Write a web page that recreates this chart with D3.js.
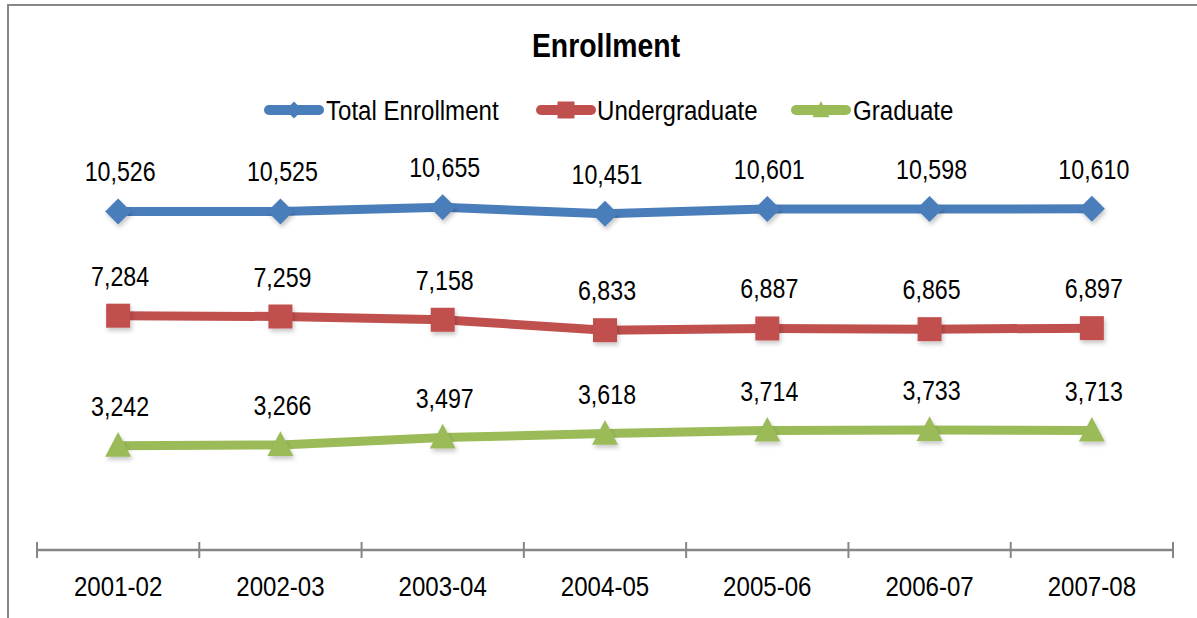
<!DOCTYPE html>
<html>
<head>
<meta charset="utf-8">
<script src="https://cdn.jsdelivr.net/npm/d3@7"></script>
<style>
  html, body { margin: 0; padding: 0; background: #fff; overflow: hidden; }
  svg { display: block; }
</style>
</head>
<body>
<svg id="chart" width="1197" height="618"></svg>
<script>
// Enrollment by academic year
const years = ["2001-02", "2002-03", "2003-04", "2004-05", "2005-06", "2006-07", "2007-08"];
const totalEnrollment = [10526, 10525, 10655, 10451, 10601, 10598, 10610];
const undergraduate = [7284, 7259, 7158, 6833, 6887, 6865, 6897];
const graduate = [3242, 3266, 3497, 3618, 3714, 3733, 3713];
const seriesNames = ["Total Enrollment", "Undergraduate", "Graduate"];
const seriesColors = ["#4A7EBB", "#C0504D", "#9BBB59"];
const seriesMarkers = ["diamond", "square", "triangle"];
const chartTitle = "Enrollment";

const series = [totalEnrollment, undergraduate, graduate].map((values, i) => ({
  name: seriesNames[i], color: seriesColors[i], marker: seriesMarkers[i], values
}));

const svg = d3.select("#chart");

// Detect whether a condensed face is installed; otherwise squeeze a regular face.
function hasFont(name) {
  const c = document.createElement("canvas").getContext("2d");
  const s = "Total Enrollment 10,526";
  c.font = "40px monospace"; const a = c.measureText(s).width;
  c.font = `40px '${name}', monospace`; const b = c.measureText(s).width;
  return Math.abs(a - b) > 0.5;
}
const narrow = hasFont("Liberation Sans Narrow") ? "'Liberation Sans Narrow'" :
               hasFont("Arial Narrow") ? "'Arial Narrow'" : null;
const family = narrow || "'Liberation Sans', Arial, sans-serif";
const squeeze = narrow ? 1.05 : 0.86;

function putText(g, x, y, str, size, anchor, weight) {
  return g.append("text")
    .attr("transform", `translate(${x},${y}) scale(${squeeze},1)`)
    .attr("text-anchor", anchor)
    .attr("font-family", family)
    .attr("font-size", size)
    .attr("font-weight", weight || "normal")
    .attr("fill", "#000")
    .text(str);
}

// Soft shadow under the markers
const defs = svg.append("defs");
const f = defs.append("filter").attr("id", "shadow")
  .attr("x", "-50%").attr("y", "-50%").attr("width", "200%").attr("height", "200%");
f.append("feDropShadow").attr("dx", 1.5).attr("dy", 3).attr("stdDeviation", 2)
  .attr("flood-color", "#000").attr("flood-opacity", 0.22);

// Chart frame
svg.append("rect")
  .attr("x", 8).attr("y", 5).attr("width", 1200).attr("height", 630)
  .attr("fill", "none").attr("stroke", "#878787").attr("stroke-width", 2);

// Scales
const x = d3.scaleBand().domain(years).range([37, 1173]);
const y = d3.scaleLinear().domain([0, 12000]).range([550, 164]);
const cx = d => x(d) + x.bandwidth() / 2;

// Title
putText(svg, 606, 57, chartTitle, 33, "middle", "bold");

// Category axis
const axisG = svg.append("g").attr("transform", `translate(0,${y(0)})`);
axisG.append("line")
  .attr("x1", x.range()[0]).attr("x2", x.range()[1])
  .attr("stroke", "#868686").attr("stroke-width", 2.5);
const tickEdges = years.map(d => x(d)).concat([x.range()[1]]);
axisG.selectAll("line.tick").data(tickEdges).join("line")
  .attr("class", "tick")
  .attr("x1", d => d).attr("x2", d => d)
  .attr("y1", -8).attr("y2", 8)
  .attr("stroke", "#868686").attr("stroke-width", 2);
years.forEach(d => putText(axisG, cx(d), 46, d, 28, "middle"));

// Marker shapes
function markerPath(type, s) {
  if (type === "diamond") return `M0,${-s}L${s},0L0,${s}L${-s},0Z`;
  if (type === "square") return `M${-s},${-s}H${s}V${s}H${-s}Z`;
  return `M0,${-s * 1.05}L${s},${s * 0.85}L${-s},${s * 0.85}Z`;
}
const markerSize = { diamond: 13, square: 12, triangle: 13 };

// Series lines, markers and value labels
const line = d3.line().x((v, i) => cx(years[i])).y(v => y(v));
series.forEach(s => {
  const g = svg.append("g");
  g.append("path")
    .attr("d", line(s.values))
    .attr("fill", "none").attr("stroke", s.color)
    .attr("stroke-width", 9).attr("stroke-linejoin", "round");
  g.selectAll("path.mk").data(s.values).join("path")
    .attr("class", "mk")
    .attr("transform", (v, i) => `translate(${cx(years[i])},${y(v)})`)
    .attr("d", markerPath(s.marker, markerSize[s.marker]))
    .attr("fill", s.color)
    .attr("filter", "url(#shadow)");
  s.values.forEach((v, i) => {
    putText(g, cx(years[i]) + 2, y(v) - 30, d3.format(",")(v), 27, "middle");
  });
});

// Legend
const legendItems = [
  { lx: 264, tx: 326 },
  { lx: 536, tx: 597 },
  { lx: 791, tx: 853 }
];
const legendY = 110;
series.forEach((s, i) => {
  const g = svg.append("g");
  const it = legendItems[i];
  g.append("line")
    .attr("x1", it.lx + 5).attr("x2", it.lx + 55)
    .attr("y1", legendY).attr("y2", legendY)
    .attr("stroke", s.color).attr("stroke-width", 10).attr("stroke-linecap", "round");
  g.append("path")
    .attr("transform", `translate(${it.lx + 30},${legendY})`)
    .attr("d", markerPath(s.marker, 8.5))
    .attr("fill", s.color);
  putText(g, it.tx, legendY + 10, s.name, 28, "start");
});
</script>
</body>
</html>
